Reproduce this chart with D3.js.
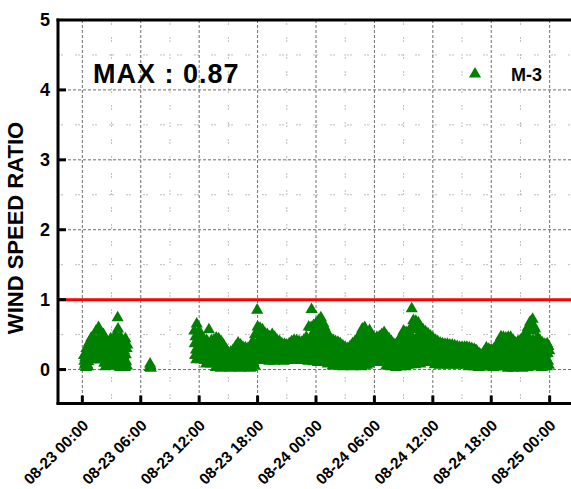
<!DOCTYPE html>
<html>
<head>
<meta charset="utf-8">
<script src="https://cdn.jsdelivr.net/npm/d3@7"></script>
<style>
  html, body { margin: 0; padding: 0; background: #fff; overflow: hidden; }
  svg { display: block; font-family: "Liberation Sans", Arial, sans-serif; font-weight: bold; }
</style>
</head>
<body>
<svg id="chart" width="571" height="489"></svg>
<script>
// ---- data -------------------------------------------------------------
// time axis: hours after 08-23 00:00
const tickHours  = [0, 6, 12, 18, 24, 30, 36, 42, 48];
const tickLabels = ["08-23 00:00", "08-23 06:00", "08-23 12:00", "08-23 18:00",
                    "08-24 00:00", "08-24 06:00", "08-24 12:00", "08-24 18:00", "08-25 00:00"];
const yTicks = [0, 1, 2, 3, 4, 5];
const yTickLabels = ["0", "1", "2", "3", "4", "5"];
const limitRatio = 1;
const seriesName = "M-3";
const stepMinutes = 2.5;

// start of each recording block (hours after 08-23 00:00)
const blockStarts = [10 / 60, 6 + 55 / 60, 11.5];

// block 1: 00:10 - 04:37, readings every 2.5 minutes, one row per half hour
const block1 = [
  [0.20, 0.12, 0.06, 0.17, 0.09, 0.03, 0.30, 0.13, 0.07, 0.18, 0.04, 0.11],
  [0.38, 0.27, 0.18, 0.33, 0.22, 0.14, 0.45, 0.28, 0.20, 0.36, 0.15, 0.25],
  [0.45, 0.31, 0.19, 0.39, 0.25, 0.14, 0.55, 0.33, 0.22, 0.42, 0.16, 0.28],
  [0.60, 0.33, 0.19, 0.42, 0.26, 0.14, 0.49, 0.35, 0.23, 0.46, 0.16, 0.30],
  [0.50, 0.23, 0.09, 0.32, 0.16, 0.04, 0.39, 0.25, 0.13, 0.36, 0.06, 0.20],
  [0.36, 0.22, 0.10, 0.30, 0.16, 0.05, 0.44, 0.24, 0.13, 0.33, 0.07, 0.19],
  [0.42, 0.25, 0.11, 0.35, 0.18, 0.05, 0.50, 0.27, 0.16, 0.38, 0.20, 0.74],
  [0.58, 0.27, 0.18, 0.38, 0.18, 0.03, 0.47, 0.29, 0.14, 0.43, 0.05, 0.23],
  [0.33, 0.20, 0.08, 0.27, 0.14, 0.03, 0.44, 0.21, 0.11, 0.30, 0.05, 0.35]
];

// block 2: short burst around 07:00
const block2 = [
  [0.03, 0.08, 0.05, 0.02]
];

// block 3: 08-23 11:30 - 08-24 23:57
const block3 = [
  [0.55, 0.37, 0.20, 0.47, 0.28, 0.14, 0.65, 0.39, 0.24, 0.51, 0.16, 0.32],
  [0.55, 0.32, 0.19, 0.40, 0.26, 0.14, 0.47, 0.34, 0.22, 0.44, 0.16, 0.29],
  [0.43, 0.27, 0.13, 0.35, 0.20, 0.08, 0.42, 0.28, 0.17, 0.39, 0.10, 0.23],
  [0.57, 0.26, 0.13, 0.34, 0.20, 0.08, 0.41, 0.28, 0.16, 0.38, 0.10, 0.23],
  [0.42, 0.24, 0.09, 0.34, 0.17, 0.03, 0.45, 0.26, 0.13, 0.38, 0.05, 0.21],
  [0.44, 0.23, 0.08, 0.32, 0.15, 0.02, 0.40, 0.25, 0.12, 0.36, 0.04, 0.19],
  [0.35, 0.17, 0.07, 0.24, 0.12, 0.03, 0.29, 0.19, 0.10, 0.26, 0.04, 0.15],
  [0.23, 0.14, 0.05, 0.19, 0.09, 0.02, 0.25, 0.15, 0.07, 0.21, 0.03, 0.11],
  [0.28, 0.17, 0.07, 0.23, 0.12, 0.03, 0.33, 0.18, 0.09, 0.26, 0.04, 0.14],
  [0.38, 0.20, 0.07, 0.28, 0.14, 0.02, 0.35, 0.22, 0.10, 0.32, 0.04, 0.17],
  [0.32, 0.18, 0.07, 0.25, 0.13, 0.03, 0.31, 0.20, 0.10, 0.28, 0.04, 0.16],
  [0.30, 0.17, 0.06, 0.24, 0.12, 0.02, 0.32, 0.19, 0.09, 0.27, 0.03, 0.15],
  [0.40, 0.24, 0.10, 0.33, 0.17, 0.05, 0.50, 0.26, 0.14, 0.37, 0.14, 0.85],
  [0.61, 0.38, 0.20, 0.50, 0.29, 0.13, 0.59, 0.41, 0.25, 0.54, 0.15, 0.34],
  [0.57, 0.34, 0.19, 0.44, 0.27, 0.13, 0.52, 0.36, 0.23, 0.48, 0.15, 0.31],
  [0.50, 0.31, 0.17, 0.40, 0.24, 0.12, 0.47, 0.33, 0.21, 0.44, 0.14, 0.28],
  [0.50, 0.31, 0.17, 0.39, 0.24, 0.12, 0.46, 0.32, 0.21, 0.43, 0.14, 0.27],
  [0.42, 0.28, 0.17, 0.35, 0.22, 0.13, 0.40, 0.29, 0.20, 0.37, 0.14, 0.25],
  [0.37, 0.25, 0.16, 0.31, 0.20, 0.12, 0.36, 0.26, 0.18, 0.34, 0.13, 0.23],
  [0.35, 0.26, 0.17, 0.31, 0.21, 0.14, 0.37, 0.27, 0.19, 0.33, 0.15, 0.23],
  [0.40, 0.28, 0.17, 0.35, 0.22, 0.13, 0.42, 0.29, 0.20, 0.37, 0.14, 0.25],
  [0.41, 0.28, 0.18, 0.35, 0.23, 0.14, 0.40, 0.30, 0.21, 0.37, 0.15, 0.26],
  [0.39, 0.27, 0.17, 0.34, 0.22, 0.13, 0.42, 0.29, 0.20, 0.36, 0.14, 0.25],
  [0.46, 0.31, 0.17, 0.39, 0.24, 0.12, 0.61, 0.32, 0.21, 0.43, 0.14, 0.27],
  [0.60, 0.86, 0.18, 0.50, 0.28, 0.11, 0.63, 0.40, 0.23, 0.55, 0.13, 0.33],
  [0.66, 0.41, 0.18, 0.55, 0.30, 0.10, 0.70, 0.44, 0.24, 0.60, 0.13, 0.35],
  [0.74, 0.42, 0.17, 0.56, 0.31, 0.10, 0.66, 0.45, 0.25, 0.61, 0.12, 0.36],
  [0.56, 0.31, 0.14, 0.42, 0.23, 0.08, 0.50, 0.33, 0.19, 0.46, 0.10, 0.27],
  [0.44, 0.25, 0.11, 0.35, 0.18, 0.05, 0.42, 0.27, 0.14, 0.38, 0.07, 0.22],
  [0.40, 0.24, 0.10, 0.32, 0.17, 0.05, 0.39, 0.25, 0.14, 0.36, 0.07, 0.20],
  [0.37, 0.21, 0.09, 0.28, 0.15, 0.04, 0.34, 0.22, 0.12, 0.31, 0.06, 0.18],
  [0.32, 0.19, 0.09, 0.25, 0.14, 0.05, 0.30, 0.20, 0.11, 0.28, 0.06, 0.16],
  [0.33, 0.20, 0.08, 0.27, 0.14, 0.04, 0.37, 0.21, 0.11, 0.30, 0.05, 0.17],
  [0.40, 0.24, 0.10, 0.33, 0.17, 0.05, 0.44, 0.26, 0.14, 0.37, 0.07, 0.21],
  [0.50, 0.29, 0.11, 0.41, 0.20, 0.04, 0.58, 0.32, 0.16, 0.45, 0.06, 0.25],
  [0.60, 0.30, 0.13, 0.41, 0.21, 0.06, 0.50, 0.32, 0.17, 0.46, 0.08, 0.26],
  [0.56, 0.31, 0.16, 0.40, 0.23, 0.10, 0.48, 0.33, 0.20, 0.44, 0.12, 0.27],
  [0.43, 0.29, 0.16, 0.37, 0.22, 0.11, 0.46, 0.30, 0.19, 0.40, 0.13, 0.25],
  [0.47, 0.30, 0.16, 0.40, 0.23, 0.10, 0.50, 0.32, 0.19, 0.43, 0.12, 0.27],
  [0.53, 0.29, 0.11, 0.39, 0.20, 0.05, 0.48, 0.31, 0.16, 0.44, 0.07, 0.24],
  [0.44, 0.24, 0.09, 0.33, 0.17, 0.04, 0.40, 0.26, 0.13, 0.36, 0.06, 0.20],
  [0.36, 0.21, 0.08, 0.29, 0.15, 0.03, 0.36, 0.23, 0.11, 0.33, 0.05, 0.18],
  [0.41, 0.24, 0.10, 0.34, 0.17, 0.04, 0.48, 0.26, 0.13, 0.37, 0.06, 0.21],
  [0.55, 0.31, 0.11, 0.43, 0.21, 0.04, 0.53, 0.33, 0.16, 0.48, 0.06, 0.26],
  [0.51, 0.31, 0.14, 0.42, 0.22, 0.07, 0.60, 0.33, 0.87, 0.47, 0.09, 0.27],
  [0.70, 0.41, 0.16, 0.57, 0.29, 0.07, 0.69, 0.44, 0.23, 0.63, 0.10, 0.35],
  [0.67, 0.37, 0.16, 0.50, 0.27, 0.08, 0.61, 0.40, 0.21, 0.56, 0.11, 0.32],
  [0.57, 0.34, 0.17, 0.45, 0.25, 0.10, 0.54, 0.36, 0.21, 0.50, 0.12, 0.30],
  [0.51, 0.31, 0.16, 0.40, 0.23, 0.10, 0.48, 0.33, 0.20, 0.44, 0.12, 0.27],
  [0.45, 0.26, 0.12, 0.35, 0.19, 0.07, 0.42, 0.28, 0.16, 0.39, 0.09, 0.23],
  [0.40, 0.24, 0.11, 0.32, 0.17, 0.06, 0.38, 0.25, 0.14, 0.35, 0.08, 0.20],
  [0.37, 0.23, 0.11, 0.30, 0.17, 0.07, 0.36, 0.24, 0.14, 0.33, 0.08, 0.20],
  [0.36, 0.22, 0.10, 0.29, 0.16, 0.06, 0.35, 0.23, 0.13, 0.32, 0.07, 0.19],
  [0.35, 0.22, 0.11, 0.29, 0.16, 0.07, 0.34, 0.23, 0.14, 0.31, 0.08, 0.19],
  [0.33, 0.20, 0.10, 0.27, 0.15, 0.06, 0.32, 0.22, 0.13, 0.29, 0.07, 0.18],
  [0.32, 0.21, 0.11, 0.27, 0.16, 0.07, 0.32, 0.22, 0.13, 0.30, 0.08, 0.18],
  [0.32, 0.19, 0.08, 0.26, 0.13, 0.04, 0.31, 0.20, 0.11, 0.28, 0.05, 0.16],
  [0.30, 0.18, 0.08, 0.24, 0.13, 0.04, 0.29, 0.19, 0.10, 0.27, 0.05, 0.15],
  [0.27, 0.14, 0.06, 0.19, 0.10, 0.03, 0.23, 0.15, 0.08, 0.21, 0.04, 0.12],
  [0.20, 0.13, 0.06, 0.17, 0.10, 0.04, 0.25, 0.14, 0.08, 0.18, 0.05, 0.11],
  [0.31, 0.18, 0.08, 0.24, 0.13, 0.04, 0.29, 0.19, 0.10, 0.27, 0.05, 0.15],
  [0.28, 0.17, 0.07, 0.23, 0.12, 0.03, 0.29, 0.18, 0.09, 0.26, 0.04, 0.14],
  [0.31, 0.19, 0.08, 0.26, 0.13, 0.04, 0.40, 0.20, 0.11, 0.28, 0.05, 0.16],
  [0.47, 0.27, 0.10, 0.38, 0.19, 0.04, 0.46, 0.29, 0.15, 0.42, 0.06, 0.23],
  [0.45, 0.26, 0.08, 0.36, 0.17, 0.02, 0.46, 0.28, 0.13, 0.41, 0.04, 0.21],
  [0.46, 0.24, 0.08, 0.34, 0.16, 0.02, 0.42, 0.26, 0.12, 0.38, 0.04, 0.20],
  [0.38, 0.22, 0.08, 0.31, 0.15, 0.03, 0.40, 0.24, 0.12, 0.35, 0.05, 0.19],
  [0.42, 0.24, 0.08, 0.34, 0.16, 0.02, 0.46, 0.26, 0.12, 0.38, 0.04, 0.20],
  [0.50, 0.29, 0.10, 0.41, 0.19, 0.03, 0.60, 0.31, 0.15, 0.45, 0.05, 0.24],
  [0.68, 0.39, 0.14, 0.55, 0.26, 0.04, 0.72, 0.42, 0.20, 0.62, 0.07, 0.33],
  [0.58, 0.27, 0.10, 0.38, 0.19, 0.04, 0.46, 0.29, 0.15, 0.42, 0.06, 0.23],
  [0.42, 0.22, 0.08, 0.31, 0.15, 0.03, 0.38, 0.24, 0.12, 0.35, 0.05, 0.19],
  [0.36, 0.22, 0.09, 0.30, 0.15, 0.04, 0.37, 0.23, 0.12, 0.33, 0.06, 0.27]
];

// ---- points: each reading placed at its own timestamp ----------------------
const points = [];
[block1, block2, block3].forEach((rows, b) => {
  rows.flat().forEach((v, i) => {
    points.push({ hour: blockStarts[b] + i * stepMinutes / 60, value: v });
  });
});

// ---- layout -------------------------------------------------------------
const svg = d3.select("#chart");
const plotLeft = 58, plotTop = 20, plotBottom = 404.5, plotRight = 574, edge = 571;

const x = d3.scaleLinear().domain([-2.5, 50.5]).range([plotLeft, plotRight]);
const y = d3.scaleLinear().domain([-0.5, 5]).range([plotBottom, plotTop]);

const green = "#008000";

// minor grid (half-steps)
const minorX = d3.range(3, 48, 6);
const minorY = d3.range(0.5, 5, 1);
const grid = svg.append("g");
grid.selectAll("line.mx").data(minorX).join("line")
  .attr("x1", d => x(d)).attr("x2", d => x(d))
  .attr("y1", plotTop).attr("y2", plotBottom)
  .attr("stroke", "#bdbdbd").attr("stroke-width", 1)
  .attr("stroke-dasharray", "2,1,2,12");
grid.selectAll("line.my").data(minorY).join("line")
  .attr("x1", plotLeft).attr("x2", edge)
  .attr("y1", d => y(d)).attr("y2", d => y(d))
  .attr("stroke", "#bdbdbd").attr("stroke-width", 1)
  .attr("stroke-dasharray", "2,1,2,12");

// major grid
grid.selectAll("line.gx").data(tickHours).join("line")
  .attr("x1", d => x(d)).attr("x2", d => x(d))
  .attr("y1", plotTop).attr("y2", plotBottom)
  .attr("stroke", "#6e6e6e").attr("stroke-width", 1)
  .attr("stroke-dasharray", "3,2");
grid.selectAll("line.gy").data(yTicks.filter(d => d < 5)).join("line")
  .attr("x1", plotLeft).attr("x2", edge)
  .attr("y1", d => y(d)).attr("y2", d => y(d))
  .attr("stroke", "#6e6e6e").attr("stroke-width", 1)
  .attr("stroke-dasharray", "3,2");

// limit line
svg.append("line")
  .attr("x1", plotLeft).attr("x2", edge)
  .attr("y1", y(limitRatio)).attr("y2", y(limitRatio))
  .attr("stroke", "#ff0000").attr("stroke-width", 3);

// readings
const tri = d3.symbol(d3.symbolTriangle, 64);
svg.append("g").selectAll("path").data(points).join("path")
  .attr("d", tri)
  .attr("transform", d => `translate(${x(d.hour)},${y(d.value)})`)
  .attr("fill", green);

// frame and ticks
const frame = svg.append("g").attr("stroke", "#000").attr("stroke-width", 3);
frame.append("line").attr("x1", plotLeft).attr("x2", plotLeft).attr("y1", plotTop - 1.5).attr("y2", plotBottom);
frame.append("line").attr("x1", plotLeft - 1.5).attr("x2", edge).attr("y1", plotBottom - 1).attr("y2", plotBottom - 1);
frame.append("line").attr("x1", plotLeft - 1.5).attr("x2", edge).attr("y1", plotTop).attr("y2", plotTop);
frame.selectAll("line.ty").data(yTicks.filter(d => d < 5)).join("line")
  .attr("x1", plotLeft).attr("x2", plotLeft + 8)
  .attr("y1", d => y(d)).attr("y2", d => y(d));
frame.selectAll("line.tx").data(tickHours).join("line")
  .attr("x1", d => x(d)).attr("x2", d => x(d))
  .attr("y1", plotBottom - 1).attr("y2", plotBottom - 9);

// y tick labels
svg.append("g").selectAll("text").data(yTicks).join("text")
  .attr("x", plotLeft - 8).attr("y", d => y(d))
  .attr("text-anchor", "end").attr("dominant-baseline", "central")
  .attr("font-size", 18)
  .text((d, i) => yTickLabels[i]);

// x tick labels
svg.append("g").selectAll("text").data(tickHours).join("text")
  .attr("transform", d => `translate(${x(d) + 7},${plotBottom + 22}) rotate(-45)`)
  .attr("text-anchor", "end")
  .attr("font-size", 15.5)
  .text((d, i) => tickLabels[i]);

// axis title
svg.append("text")
  .attr("transform", `translate(23,228) rotate(-90)`)
  .attr("text-anchor", "middle")
  .attr("font-size", 22)
  .text("WIND SPEED RATIO");

// maximum annotation
const maxValue = d3.max(points, d => d.value);
svg.append("text")
  .attr("x", 93).attr("y", 83)
  .attr("font-size", 27)
  .attr("letter-spacing", 1)
  .text(`MAX : ${d3.format(".2f")(maxValue)}`);

// legend
svg.append("path")
  .attr("d", tri)
  .attr("transform", "translate(475,74)")
  .attr("fill", green);
svg.append("text")
  .attr("x", 511).attr("y", 81)
  .attr("font-size", 18)
  .text(seriesName);
</script>
</body>
</html>
